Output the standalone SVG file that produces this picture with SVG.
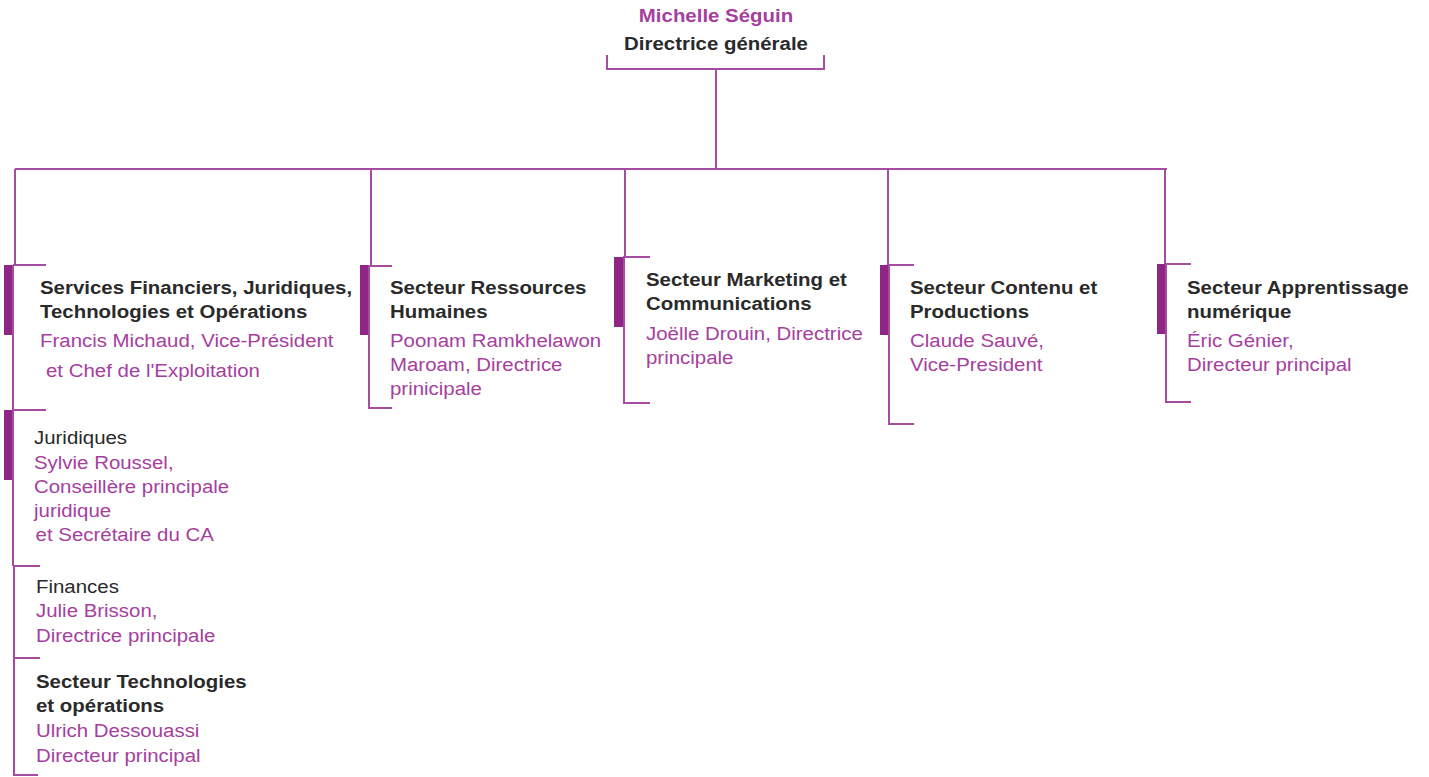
<svg xmlns="http://www.w3.org/2000/svg" width="1429" height="777" viewBox="0 0 1429 777">
<style>
.ln{stroke:#a64ca3;stroke-width:2;fill:none}
.bar{fill:#8f2584}
text{font-family:"Liberation Sans",Arial,sans-serif;font-size:19px}
.t{fill:#2a2a2a;font-weight:bold}
.r{fill:#2a2a2a}
.n{fill:#a5409e}
.nb{fill:#a5409e;font-weight:bold}
</style>
<rect width="1429" height="777" fill="#ffffff"/>
<g id="connectors">
<path class="ln" d="M607 55V69H824V55"/>
<path class="ln" d="M716 69V169"/>
<path class="ln" d="M15 169H1167"/>
<path class="ln" d="M15 169V264"/>
<path class="ln" d="M371 169V265"/>
<path class="ln" d="M625 169V257"/>
<path class="ln" d="M888 169V265"/>
<path class="ln" d="M1165 169V264"/>
</g>
<g id="node-dg">
<g transform="translate(716 0) scale(1.075 1)">
<text class="nb" x="0" y="22" text-anchor="middle">Michelle Séguin</text>
<text class="t" x="0" y="50" text-anchor="middle">Directrice générale</text>
</g>
</g>
<g id="node-sfjto">
<rect class="bar" x="4" y="265" width="9" height="70"/>
<path class="ln" d="M13 265H46M13 265V410"/>
<g transform="translate(40 0) scale(1.075 1)">
<text class="t" x="0" y="294">Services Financiers, Juridiques,</text>
<text class="t" x="0" y="318">Technologies et Opérations</text>
<text class="n" x="0" y="347">Francis Michaud, Vice-Président</text>
<text class="n" x="5.6" y="377">et Chef de l'Exploitation</text>
</g>
</g>
<g id="node-juridiques">
<rect class="bar" x="4" y="410" width="9" height="70"/>
<path class="ln" d="M13 410H46M13 410V566"/>
<g transform="translate(34 0) scale(1.075 1)">
<text class="r" x="0" y="444">Juridiques</text>
<text class="n" x="0" y="469">Sylvie Roussel,</text>
<text class="n" x="0" y="493">Conseillère principale</text>
<text class="n" x="0" y="517">juridique</text>
<text class="n" x="1.5" y="541">et Secrétaire du CA</text>
</g>
</g>
<g id="node-finances">
<path class="ln" d="M13 566H40M14 566V658"/>
<g transform="translate(36 0) scale(1.075 1)">
<text class="r" x="0" y="593">Finances</text>
<text class="n" x="0" y="617">Julie Brisson,</text>
<text class="n" x="0" y="642">Directrice principale</text>
</g>
</g>
<g id="node-techops">
<path class="ln" d="M14 658H40M14 658V775H38"/>
<g transform="translate(36 0) scale(1.075 1)">
<text class="t" x="0" y="688">Secteur Technologies</text>
<text class="t" x="0" y="712">et opérations</text>
<text class="n" x="0" y="737">Ulrich Dessouassi</text>
<text class="n" x="0" y="762">Directeur principal</text>
</g>
</g>
<g id="node-rh">
<rect class="bar" x="360" y="265" width="9" height="70"/>
<path class="ln" d="M392 266H369V408H392"/>
<g transform="translate(390 0) scale(1.075 1)">
<text class="t" x="0" y="294">Secteur Ressources</text>
<text class="t" x="0" y="318">Humaines</text>
<text class="n" x="0" y="347">Poonam Ramkhelawon</text>
<text class="n" x="0" y="371">Maroam, Directrice</text>
<text class="n" x="0" y="395">prinicipale</text>
</g>
</g>
<g id="node-marketing">
<rect class="bar" x="614" y="257" width="9" height="70"/>
<path class="ln" d="M650 257H624V403H650"/>
<g transform="translate(646 0) scale(1.075 1)">
<text class="t" x="0" y="286">Secteur Marketing et</text>
<text class="t" x="0" y="310">Communications</text>
<text class="n" x="0" y="340">Joëlle Drouin, Directrice</text>
<text class="n" x="0" y="364">principale</text>
</g>
</g>
<g id="node-contenu">
<rect class="bar" x="880" y="265" width="9" height="70"/>
<path class="ln" d="M914 265H889V424H914"/>
<g transform="translate(910 0) scale(1.075 1)">
<text class="t" x="0" y="294">Secteur Contenu et</text>
<text class="t" x="0" y="318">Productions</text>
<text class="n" x="0" y="347">Claude Sauvé,</text>
<text class="n" x="0" y="371">Vice-President</text>
</g>
</g>
<g id="node-apprentissage">
<rect class="bar" x="1157" y="264" width="9" height="70"/>
<path class="ln" d="M1191 264H1166V402H1191"/>
<g transform="translate(1187 0) scale(1.075 1)">
<text class="t" x="0" y="294">Secteur Apprentissage</text>
<text class="t" x="0" y="318">numérique</text>
<text class="n" x="0" y="347">Éric Génier,</text>
<text class="n" x="0" y="371">Directeur principal</text>
</g>
</g>
</svg>
